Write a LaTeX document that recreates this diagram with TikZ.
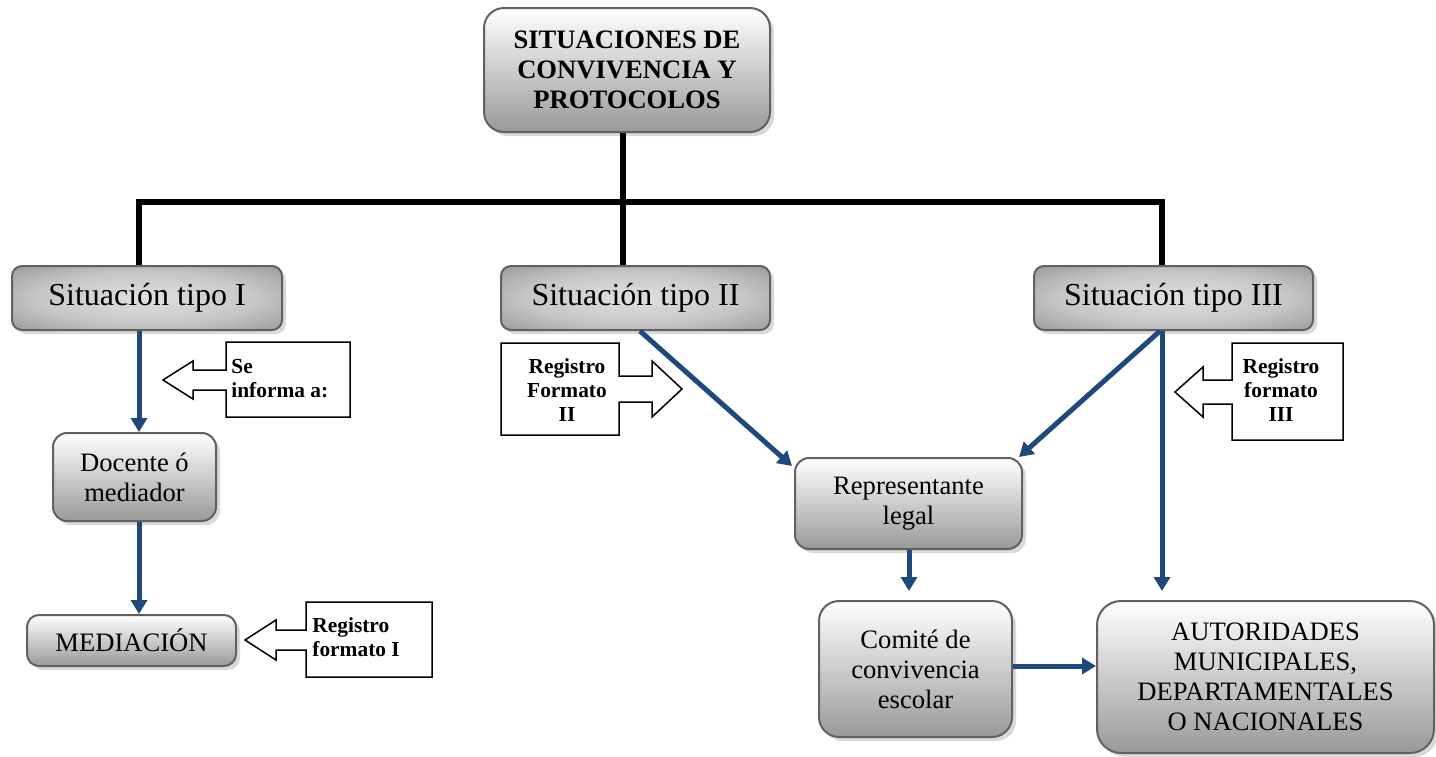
\documentclass[tikz,border=0pt]{standalone}
\usepackage{fontspec}
\setmainfont{Liberation Serif}
\usetikzlibrary{arrows.meta,shadows,calc}
\definecolor{arrblue}{RGB}{31,73,125}
\pgfdeclareradialshading{sitshade}{\pgfpoint{0bp}{0bp}}{%
  color(0bp)=(black!12); color(20bp)=(black!22); color(38bp)=(black!42); color(52bp)=(black!62); color(75bp)=(black!70)}
\begin{document}
\begin{tikzpicture}[x=0.5pt,y=-0.5pt,
  shadowed/.style={drop shadow={shadow xshift=2pt,shadow yshift=-2pt,opacity=0.3}},
  box/.style={draw=black!62, line width=1pt, top color=white, bottom color=black!40,
    shadowed, align=center, inner sep=0pt, font=\fontsize{13.3}{15}\selectfont},
  sitbox/.style={draw=black!62, line width=1pt, shading=sitshade,
    rounded corners=5pt, shadowed, inner sep=0pt, minimum height=32pt,
    font=\fontsize{16}{18}\selectfont},
  tree/.style={line width=3pt, black},
  barrow/.style={line width=2.5pt, arrblue, -{Triangle[width=8pt,length=7pt]}},
  callout/.style={draw=black, line width=0.75pt, fill=white},
  ctext/.style={font=\bfseries\fontsize{10.7}{12}\selectfont, inner sep=0pt}
]
\useasboundingbox (0,0) rectangle (1436,756);

% main nodes
\node[box, rounded corners=10pt, minimum width=143pt, minimum height=62pt,
  font=\bfseries\fontsize{13.3}{15}\selectfont] (title) at (627,70)
  {SITUACIONES DE\\CONVIVENCIA Y\\PROTOCOLOS};

\coordinate (jl) at (139,202);
\coordinate (hub) at (623,202);
\coordinate (jr) at (1162,202);

\node[sitbox, minimum width=135pt] (sit1) at (147,298) {Situación tipo I};
\node[sitbox, minimum width=134.5pt] (sit2) at (635.5,298) {Situación tipo II};
\node[sitbox, minimum width=139.5pt] (sit3) at (1173.5,298) {Situación tipo III};

\draw[tree] (sit1.north -| jl) -- (jl) -- (jr) -- (sit3.north -| jr);
\draw[tree] (title.south -| hub) -- (sit2.north -| hub);

\node[box, rounded corners=7pt, minimum width=81.5pt, minimum height=44pt] (docente) at (134.5,477) {Docente ó\\mediador};
\node[box, rounded corners=6pt, minimum width=104.5pt, minimum height=25.5pt] (mediacion) at (131.5,640.5) {MEDIACIÓN};
\node[box, rounded corners=7pt, minimum width=113.5pt, minimum height=45.5pt] (repr) at (908.5,503.5) {Representante\\legal};
\node[box, rounded corners=10pt, minimum width=96.5pt, minimum height=68pt] (comite) at (915.5,669) {Comité de\\convivencia\\escolar};
\node[box, rounded corners=12pt, minimum width=168.5pt, minimum height=76pt] (autor) at (1265.5,677) {AUTORIDADES\\MUNICIPALES,\\DEPARTAMENTALES\\O NACIONALES};

% blue arrows
\draw[barrow] (sit1.south -| jl) -- (docente.north -| jl);
\draw[barrow] (docente.south -| jl) -- (mediacion.north -| jl);
\draw[barrow] (sit2.south -| 640,0) -- ($(repr.north west)+(-2,9)$);
\draw[barrow] (sit3.south -| 1160,0) -- ($(repr.north east)+(-4,0)$);
\draw[barrow] (sit3.south -| jr) -- ($(autor.north -| jr)+(0,-9)$);
\draw[barrow] (repr.south -| 909,0) -- ($(comite.north -| 909,0)+(0,-9)$);
\draw[barrow] (comite.east |- 0,666) -- (autor.west |- 0,666);

% callouts
\draw[callout] (226,342) -- (350,342) -- (350,417) -- (226,417) -- (226,390) -- (193,390)
  -- (193,399) -- (163,380) -- (193,361) -- (193,370) -- (226,370) -- cycle;
\node[ctext, anchor=west, align=left] (c1) at (231,379) {Se\\informa a:};

\draw[callout] (501,343) -- (619,343) -- (619,376) -- (652,376) -- (652,361) -- (682,389)
  -- (652,417) -- (652,402) -- (619,402) -- (619,435) -- (501,435) -- cycle;
\node[ctext, align=center] (c2) at (567,390) {Registro\\Formato\\II};

\draw[callout] (1232,343) -- (1343,343) -- (1343,440) -- (1232,440) -- (1232,404) -- (1203,404)
  -- (1203,417) -- (1175,392) -- (1203,367) -- (1203,380) -- (1232,380) -- cycle;
\node[ctext, align=center] (c3) at (1281,390) {Registro\\formato\\III};

\draw[callout] (306,602) -- (432,602) -- (432,677) -- (306,677) -- (306,650) -- (276,650)
  -- (276,660) -- (245,640) -- (276,620) -- (276,630) -- (306,630) -- cycle;
\node[ctext, anchor=west, align=left] (c4) at (312,637) {Registro\\formato I};
\end{tikzpicture}
\end{document}
